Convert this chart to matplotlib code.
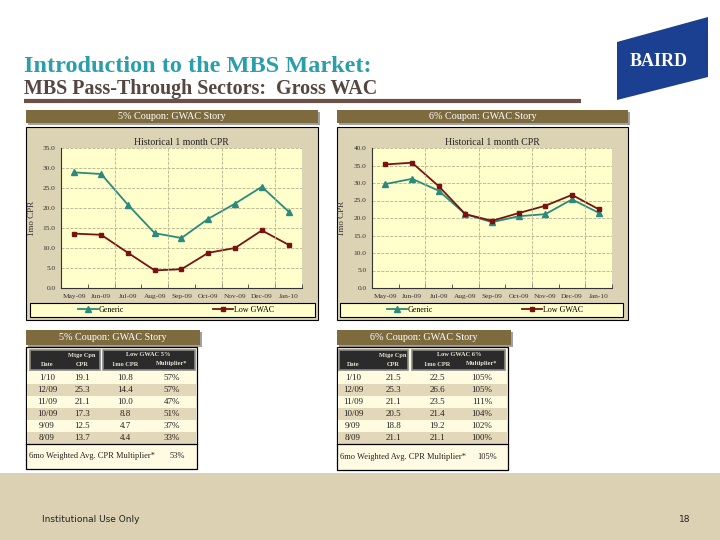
import matplotlib
matplotlib.use('Agg')
import matplotlib.pyplot as plt
from matplotlib.patches import Rectangle, Polygon

# ---- data ----
months = ['May-09', 'Jun-09', 'Jul-09', 'Aug-09', 'Sep-09', 'Oct-09', 'Nov-09', 'Dec-09', 'Jan-10']
generic_5 = [28.9, 28.5, 20.8, 13.7, 12.5, 17.3, 21.1, 25.3, 19.1]
low_gwac_5 = [13.6, 13.3, 8.8, 4.4, 4.7, 8.8, 10.0, 14.4, 10.8]
generic_6 = [29.7, 31.2, 27.8, 21.1, 18.8, 20.5, 21.1, 25.3, 21.5]
low_gwac_6 = [35.3, 35.8, 29.1, 21.1, 19.2, 21.4, 23.5, 26.6, 22.5]

table_dates = ['1/10', '12/09', '11/09', '10/09', '9/09', '8/09']
mult_5 = ['57%', '57%', '47%', '51%', '37%', '33%']
mult_6 = ['105%', '105%', '111%', '104%', '102%', '100%']
avg_mult_5 = '53%'
avg_mult_6 = '105%'

W, H = 720, 540
SERIF = ['Liberation Serif', 'DejaVu Serif']
PANEL = '#DCD2B4'
PLOT_BG = '#FFFFCC'
BAR = '#7D6B3E'
TEAL = '#2A8A7E'
DRED = '#7A1212'

fig = plt.figure(figsize=(7.2, 5.4), dpi=100)
fig.patch.set_facecolor('white')


def px(x0, y0, x1, y1):
    return [x0 / W, 1 - y1 / H, (x1 - x0) / W, (y1 - y0) / H]


bg = fig.add_axes([0, 0, 1, 1])
bg.set_xlim(0, W)
bg.set_ylim(H, 0)
bg.axis('off')

# footer band
bg.add_patch(Rectangle((0, 473), W, 67, color='#DDD1B3', lw=0))
bg.text(42, 519, 'Institutional Use Only', fontsize=6.5, color='#222222', va='center', family='DejaVu Sans')
bg.text(690, 519, '18', fontsize=6.5, color='#222222', va='center', ha='right', family='DejaVu Sans')

# titles
bg.text(24, 67, 'Introduction to the MBS Market:', fontsize=17.5, color='#2A9FAA',
        fontweight='bold', family=SERIF, va='center')
bg.text(24, 89, 'MBS Pass-Through Sectors:  Gross WAC', fontsize=14.4, color='#55463F',
        fontweight='bold', family=SERIF, va='center')
bg.plot([24, 581], [101, 101], color='#6B5048', lw=3, solid_capstyle='butt')

# logo
bg.add_patch(Polygon([(617, 42), (708, 17), (708, 77), (617, 100)], closed=True,
                     color='#1B3F91', lw=0))
bg.text(659, 62, 'BAIRD', color='white', fontsize=13, fontweight='bold',
        family=SERIF, ha='center', va='center')


def header_bar(x0, y0, x1, y1, label):
    bg.add_patch(Rectangle((x0 + 2, y0 + 2), x1 - x0, y1 - y0, color='#A0A0A0', lw=0))
    bg.add_patch(Rectangle((x0, y0), x1 - x0, y1 - y0, color=BAR, lw=0))
    bg.text((x0 + x1) / 2, (y0 + y1) / 2, label, color='white', fontsize=7.3,
            family=SERIF, ha='center', va='center')


def chart(panel, plot, legend_box, ylabel_x, label, generic, low, ymax):
    x0, y0, x1, y1 = panel
    header_bar(x0, y0 - 17, x1, y0 - 4, label)
    bg.add_patch(Rectangle((x0, y0), x1 - x0, y1 - y0, facecolor=PANEL, edgecolor='black', lw=0.8))
    lx0, ly0, lx1, ly1 = legend_box
    bg.add_patch(Rectangle((lx0, ly0), lx1 - lx0, ly1 - ly0, facecolor=PLOT_BG, edgecolor='black', lw=0.8))

    ax = fig.add_axes(px(*plot))
    ax.set_facecolor(PLOT_BG)
    xs = range(len(months))
    lg, = ax.plot(xs, generic, color=TEAL, marker='^', ms=4.5, lw=1.3, label='Generic')
    ll, = ax.plot(xs, low, color=DRED, marker='s', ms=3.5, lw=1.3, label='Low GWAC')
    ax.set_xlim(-0.5, len(months) - 0.5)
    ax.set_ylim(0, ymax)
    ax.set_yticks(range(0, ymax + 1, 5))
    ax.set_yticklabels(['%.1f' % v for v in range(0, ymax + 1, 5)])
    ax.set_xticks(list(xs))
    ax.set_xticklabels(months)
    ax.set_xticks([i + 0.5 for i in range(-1, len(months))], minor=True)
    ax.tick_params(axis='both', which='major', labelsize=5.3, colors='#333333', length=0, pad=4)
    ax.tick_params(axis='x', which='minor', length=3, color='#444444', direction='in')
    for t in ax.get_xticklabels() + ax.get_yticklabels():
        t.set_family(SERIF)
    ax.yaxis.grid(True, ls='--', color='#B8B090', lw=0.6)
    for gx in [1.5, 3.5, 5.5, 7.5]:
        ax.axvline(gx, ls='--', color='#B8B090', lw=0.6)
    for s in ['top', 'right']:
        ax.spines[s].set_visible(False)
    ax.spines['left'].set_color('#333333')
    ax.spines['bottom'].set_color('#333333')
    ax.set_title('Historical 1 month CPR', fontsize=7, family=SERIF, color='#222222', pad=2)
    ax.set_ylabel('1mo CPR', fontsize=6.5, family=SERIF, color='#333333')
    ax.yaxis.set_label_coords((ylabel_x - plot[0]) / (plot[2] - plot[0]), 0.5)
    fig.legend(handles=[lg, ll], loc='center', ncol=2, frameon=False,
               prop={'family': SERIF, 'size': 5.8}, columnspacing=11, handlelength=2.5,
               handletextpad=0.1,
               bbox_to_anchor=((lx0 + lx1) / 2 / W + 0.005, 1 - (ly0 + ly1) / 2 / H))
    return ax


def table(frame, dark1, dark2, cols, label, mtge, low, mult, foot_label, foot_val):
    x0, y0, x1, y1 = frame
    header_bar(x0, y0 - 17, x1 + 3, y0 - 2, label)
    bg.add_patch(Rectangle((x0, y0), x1 - x0, y1 - y0, facecolor='#FFFBE2', edgecolor='black', lw=0.9))
    for (a, b) in (dark1, dark2):
        bg.add_patch(Rectangle((a, y0 + 3), b - a, 20, facecolor='#2B2B2B', edgecolor='#8A8A8A', lw=1.2))
    hy1, hy2 = y0 + 8, y0 + 17
    hc = '#E8E2D0'
    coupon = label.split('%')[0] + '%'
    bg.text(cols[1], hy1, 'Mtge Cpn', color=hc, fontsize=4.6, family=SERIF, ha='center', va='center', fontweight='bold')
    bg.text((cols[2] + cols[3]) / 2, hy1, 'Low GWAC ' + coupon,
            color=hc, fontsize=4.6, family=SERIF, ha='center', va='center', fontweight='bold')
    for c, t in zip(cols, ['Date', 'CPR', '1mo CPR', 'Multiplier*']):
        bg.text(c, hy2, t, color=hc, fontsize=4.6, family=SERIF, ha='center', va='center', fontweight='bold')
    ry0 = y0 + 25
    rh = 12
    for i, d in enumerate(table_dates):
        yy = ry0 + i * rh
        bg.add_patch(Rectangle((x0 + 1, yy), x1 - x0 - 2, rh,
                               color='#FFFBE0' if i % 2 == 0 else '#E2D7B8', lw=0))
        vals = [d, '%.1f' % mtge[i], '%.1f' % low[i], mult[i]]
        for c, v in zip(cols, vals):
            bg.text(c, yy + rh / 2, v, fontsize=6.5, family=SERIF, color='#222222', ha='center', va='center')
    fy = ry0 + 6 * rh
    bg.plot([x0, x1], [fy, fy], color='black', lw=0.9)
    bg.text(x0 + 3, (fy + y1) / 2, foot_label, fontsize=6, family=SERIF, color='#222222', va='center')
    bg.text(cols[3] + 5, (fy + y1) / 2, foot_val, fontsize=6, family=SERIF, color='#222222', va='center', ha='center')


chart((26, 127, 318, 320), (61, 148, 302, 288), (30, 303, 315, 317), 36,
      '5% Coupon: GWAC Story', generic_5, low_gwac_5, 35)
chart((337, 127, 628, 320), (372, 148, 612, 288), (340, 303, 623, 317), 346,
      '6% Coupon: GWAC Story', generic_6, low_gwac_6, 40)

last6 = slice(-1, -7, -1)
table((26, 347, 197, 469), (30, 100), (103, 195), [47, 82, 125, 172],
      '5% Coupon: GWAC Story', generic_5[last6], low_gwac_5[last6], mult_5,
      '6mo Weighted Avg. CPR Multiplier*', avg_mult_5)
table((337, 347, 508, 470), (339, 408), (412, 505), [353, 393, 437, 482],
      '6% Coupon: GWAC Story', generic_6[last6], low_gwac_6[last6], mult_6,
      '6mo Weighted Avg. CPR Multiplier*', avg_mult_6)

fig.savefig('out.png', dpi=100)
